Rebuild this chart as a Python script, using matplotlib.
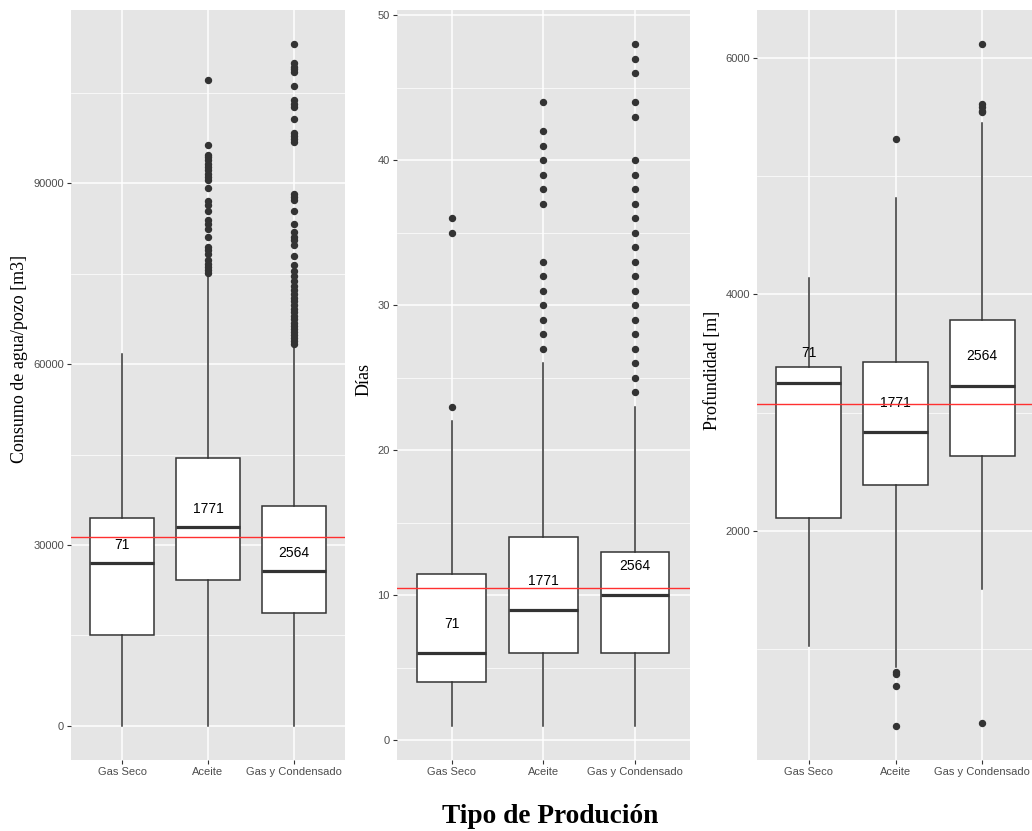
import matplotlib
matplotlib.use('Agg')
import matplotlib.pyplot as plt
from matplotlib.ticker import MultipleLocator

categorias = ['Gas Seco', 'Aceite', 'Gas y Condensado']
conteos = [71, 1771, 2564]

# Consumo de agua/pozo [m3]
agua_q1 = [15100, 24200, 18750]
agua_med = [26950, 33000, 25700]
agua_q3 = [34450, 44450, 36500]
agua_whislo = [0, 0, 0]
agua_whishi = [61600, 74700, 62800]
agua_fliers = [
    [],
    [107100, 96400, 94750, 94350, 93800, 93250, 92700, 92150, 91600, 91050, 90500,
     89250, 87000, 86350, 85350, 83850, 83200, 82450, 81050, 79400, 78850, 78300,
     77200, 76650, 76100, 75550, 75100],
    [113050, 109950, 109300, 108850, 108450, 106150, 103750, 103100, 102550, 100600,
     98350, 97850, 97400, 96850, 88250, 87700, 87150, 85350, 83300, 81900, 81050,
     80500, 79800, 77850, 76400, 75500, 74600, 73800, 73000, 72300, 71600, 71000,
     70400, 69800, 69200, 68600, 68000, 67400, 66800, 66300, 65800, 65300, 64800,
     64300, 63800, 63300],
]
agua_media = 31400

# Días
dias_q1 = [4, 6, 6]
dias_med = [6, 9, 10]
dias_q3 = [11.5, 14, 13]
dias_whislo = [1, 1, 1]
dias_whishi = [22, 26, 23]
dias_fliers = [
    [23, 35, 36],
    [27, 28, 29, 30, 31, 32, 33, 37, 38, 39, 40, 41, 42, 44],
    [24, 25, 26, 27, 28, 29, 30, 31, 32, 33, 34, 35, 36, 37, 38, 39, 40, 43, 44, 46, 47, 48],
]
dias_media = 10.5

# Profundidad [m]
prof_q1 = [2107, 2389, 2632]
prof_med = [3255, 2835, 3227]
prof_q3 = [3382, 3430, 3783]
prof_whislo = [1025, 845, 1510]
prof_whishi = [4141, 4813, 5451]
prof_fliers = [
    [],
    [5316, 810, 790, 690, 350],
    [6117, 5612, 5583, 5555, 5540, 375],
]
prof_media = 3077

GRIS_FONDO = '#E5E5E5'
LINEA = '#333333'


def panel(ax, q1, med, q3, lo, hi, fliers, media, offset, ylabel, major, minor, ylab_pos):
    stats = []
    for i in range(3):
        stats.append(dict(q1=q1[i], med=med[i], q3=q3[i], whislo=lo[i],
                          whishi=hi[i], fliers=fliers[i]))
    ax.set_facecolor(GRIS_FONDO)
    ax.bxp(stats, positions=[1, 2, 3], widths=0.75, patch_artist=True,
           showcaps=False,
           boxprops=dict(facecolor='white', edgecolor=LINEA, linewidth=1.1),
           whiskerprops=dict(color=LINEA, linewidth=1.1),
           medianprops=dict(color=LINEA, linewidth=2.3),
           flierprops=dict(marker='o', markerfacecolor=LINEA, markeredgecolor=LINEA,
                           markersize=4.3, linestyle='none'),
           zorder=3)
    # etiquetas con el número de pozos
    for i in range(3):
        ax.text(i + 1, med[i] + offset, str(conteos[i]), ha='center', va='center',
                fontsize=10, family='Liberation Sans', color='black', zorder=4)
    ax.axhline(media, color='#FF3030', linewidth=1.0, zorder=5)

    ax.set_xlim(0.4, 3.6)
    ax.margins(y=0.05)
    ax.set_xticks([1, 2, 3])
    ax.set_xticklabels(categorias)
    ax.yaxis.set_major_locator(MultipleLocator(major))
    ax.yaxis.set_minor_locator(MultipleLocator(minor))
    ax.grid(True, which='major', color='white', linewidth=1.1, zorder=0)
    ax.grid(True, which='minor', axis='y', color='white', linewidth=0.5, zorder=0)
    ax.set_axisbelow(True)
    for s in ax.spines.values():
        s.set_visible(False)
    ax.tick_params(which='major', length=3, color=LINEA, labelsize=8,
                   labelcolor='#4D4D4D', pad=2)
    ax.tick_params(which='minor', length=0)
    for lab in ax.get_xticklabels() + ax.get_yticklabels():
        lab.set_family('Liberation Sans')
    ax.set_ylabel(ylabel, family='Liberation Serif', fontsize=13, labelpad=3.5)
    ax.yaxis.label.set_y(ylab_pos)


fig = plt.figure(figsize=(10.32, 8.31), dpi=100)
ax1 = fig.add_axes([0.0688, 0.0854, 0.2655, 0.9025])
ax2 = fig.add_axes([0.3844, 0.0854, 0.2842, 0.9025])
ax3 = fig.add_axes([0.7335, 0.0854, 0.2687, 0.9025])

panel(ax1, agua_q1, agua_med, agua_q3, agua_whislo, agua_whishi, agua_fliers,
      agua_media, 3000, 'Consumo de agua/pozo [m3]', 30000, 15000, 0.535)
panel(ax2, dias_q1, dias_med, dias_q3, dias_whislo, dias_whishi, dias_fliers,
      dias_media, 2, 'Días', 10, 5, 0.507)
panel(ax3, prof_q1, prof_med, prof_q3, prof_whislo, prof_whishi, prof_fliers,
      prof_media, 250, 'Profundidad [m]', 2000, 1000, 0.52)

# el título va centrado en la figura original, que era más ancha
fig.text(0.533, 0.0096, 'Tipo de Produción', ha='center', va='baseline',
         family='Liberation Serif', fontweight='bold', fontsize=19.7)

fig.savefig('out.png', dpi=100)
